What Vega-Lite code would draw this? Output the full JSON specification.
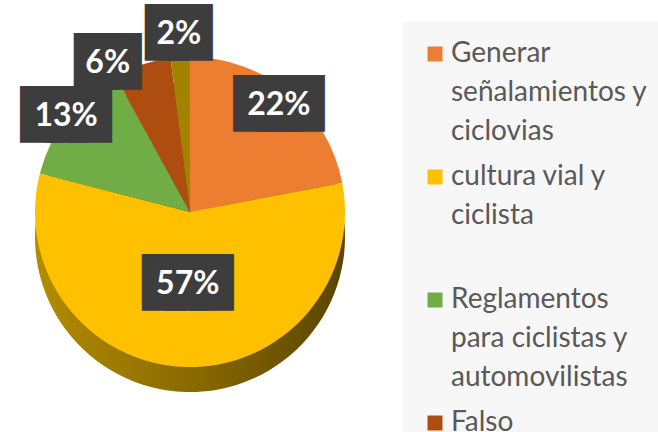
{
  "$schema": "https://vega.github.io/schema/vega-lite/v6.json",
  "width": 380,
  "height": 424,
  "padding": 0,
  "background": "white",
  "config": {"view": {"stroke": null}},
  "data": {
    "values": [
      {"categoria": "Generar señalamientos y ciclovias", "valor": 22, "orden": 1, "etiqueta": "22%"},
      {"categoria": "cultura vial y ciclista", "valor": 57, "orden": 2, "etiqueta": "57%"},
      {"categoria": "Reglamentos para ciclistas y automovilistas", "valor": 13, "orden": 3, "etiqueta": "13%"},
      {"categoria": "Falso", "valor": 6, "orden": 4, "etiqueta": "6%"},
      {"categoria": "Verdadero", "valor": 2, "orden": 5, "etiqueta": "2%"}
    ]
  },
  "transform": [
    {"stack": "valor", "groupby": [], "sort": [{"field": "orden", "order": "ascending"}], "as": ["v0", "v1"]},
    {"calculate": "(datum.v0 + datum.v1) / 2", "as": "medio"}
  ],
  "layer": [
    {
      "mark": {"type": "arc", "radius": 155, "yOffset": 25, "fill": {"gradient": "linear", "x1": 0, "x2": 1, "y1": 0, "y2": 0, "stops": [{"offset": 0, "color": "#B38C00"}, {"offset": 0.5, "color": "#8A6A00"}, {"offset": 1, "color": "#5A4500"}]}},
      "encoding": {
        "theta": {"field": "v0", "type": "quantitative", "stack": null, "scale": {"domain": [0, 100]}},
        "theta2": {"field": "v1"}
      }
    },
    {
      "mark": {"type": "arc", "radius": 155},
      "encoding": {
        "theta": {"field": "v0", "type": "quantitative", "stack": null},
        "theta2": {"field": "v1"},
        "color": {
          "field": "categoria",
          "type": "nominal",
          "scale": {
            "domain": ["Generar señalamientos y ciclovias", "cultura vial y ciclista", "Reglamentos para ciclistas y automovilistas", "Falso", "Verdadero"],
            "range": ["#ED7D31", "#FFC000", "#70AD47", "#AE4D0F", "#A38200"]
          },
          "legend": {
            "title": null,
            "values": ["Generar señalamientos y ciclovias", "cultura vial y ciclista", "Reglamentos para ciclistas y automovilistas", "Falso"],
            "orient": "none",
            "legendX": 403,
            "legendY": 22,
            "fillColor": "#F7F7F7",
            "padding": 18,
            "symbolType": "square",
            "symbolSize": 225,
            "symbolStrokeWidth": 0,
            "labelFont": "Lato",
            "labelFontSize": 28,
            "labelColor": "#595959",
            "labelOffset": 2,
            "labelLimit": 300,
            "rowPadding": 17,
            "labelExpr": "datum.label == 'Generar señalamientos y ciclovias' ? ['Generar', 'señalamientos y', 'ciclovias'] : datum.label == 'cultura vial y ciclista' ? ['cultura vial y', 'ciclista', ''] : datum.label == 'Reglamentos para ciclistas y automovilistas' ? ['Reglamentos', 'para ciclistas y', 'automovilistas'] : datum.label",
            "encode": {"labels": {"update": {"lineHeight": {"value": 39}}}}
          }
        }
      }
    },
    {
      "transform": [{"filter": "datum.etiqueta != '6%'"}],
      "mark": {"type": "text", "font": "DejaVu Sans", "fontSize": 31, "color": "#3D3D3D", "stroke": "#3D3D3D", "strokeWidth": 20, "strokeJoin": "miter"},
      "encoding": {
        "theta": {"field": "medio", "type": "quantitative", "stack": null},
        "radius": {"field": "valor", "type": "quantitative", "scale": {"type": "linear", "zero": false, "domain": [2, 57], "range": [178, 72]}},
        "text": {"condition": {"test": "datum.valor >= 10", "value": "███"}, "value": "██"}
      }
    },
    {
      "transform": [{"filter": "datum.etiqueta != '6%'"}],
      "mark": {"type": "text", "font": "Lato", "fontWeight": "bold", "fontSize": 32, "color": "white"},
      "encoding": {
        "theta": {"field": "medio", "type": "quantitative", "stack": null},
        "radius": {"field": "valor", "type": "quantitative"},
        "text": {"field": "etiqueta"}
      }
    },
    {
      "transform": [{"filter": "datum.etiqueta == '6%'"}],
      "mark": {"type": "text", "thetaOffset": -0.19, "font": "DejaVu Sans", "fontSize": 31, "color": "#3D3D3D", "stroke": "#3D3D3D", "strokeWidth": 20, "strokeJoin": "miter"},
      "encoding": {
        "theta": {"field": "medio", "type": "quantitative", "stack": null},
        "radius": {"field": "valor", "type": "quantitative"},
        "text": {"value": "██"}
      }
    },
    {
      "transform": [{"filter": "datum.etiqueta == '6%'"}],
      "mark": {"type": "text", "thetaOffset": -0.19, "font": "Lato", "fontWeight": "bold", "fontSize": 32, "color": "white"},
      "encoding": {
        "theta": {"field": "medio", "type": "quantitative", "stack": null},
        "radius": {"field": "valor", "type": "quantitative"},
        "text": {"field": "etiqueta"}
      }
    }
  ]
}
